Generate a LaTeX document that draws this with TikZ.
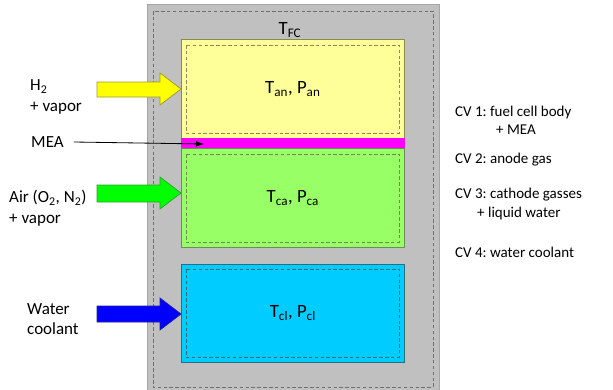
\documentclass[tikz,border=0pt]{standalone}
\usepackage{fontspec}
\setmainfont{Carlito}
\usetikzlibrary{arrows.meta}
\frenchspacing
\begin{document}
\begin{tikzpicture}[x=0.03cm,y=-0.03cm,
  cvbox/.style={draw=#1, line width=0.6pt, rectangle, inner sep=0pt, anchor=north west},
  innerdash/.style={draw=#1, dashed, line width=0.5pt, dash pattern=on 3pt off 2pt},
  biglabel/.style={font=\fontsize{16}{18}\selectfont, inner sep=0pt},
  leftlabel/.style={font=\fontsize{14.5}{17.5}\selectfont, align=left, inner sep=0pt, anchor=west},
  rightlabel/.style={font=\fontsize{12.8}{15}\selectfont, align=left, inner sep=0pt, anchor=west},
  fatarrow/.style={draw=#1, line width=0.6pt, line join=miter}
]
\definecolor{bodygray}{HTML}{C0C0C0}
\definecolor{bodyedge}{HTML}{A6A6A6}
\definecolor{dashgray}{HTML}{707070}
\definecolor{anfill}{HTML}{FFFF99}
\definecolor{anedge}{HTML}{8C8C50}
\definecolor{cafill}{HTML}{99FF66}
\definecolor{caedge}{HTML}{6E8C5A}
\definecolor{clfill}{HTML}{00CCFF}
\definecolor{cledge}{HTML}{2C6E80}
\definecolor{meafill}{HTML}{FF00FF}
\definecolor{yarrow}{HTML}{FFFF00}
\definecolor{yarrowedge}{HTML}{9A9A30}
\definecolor{garrow}{HTML}{00FF00}
\definecolor{garrowedge}{HTML}{30A030}
\definecolor{barrow}{HTML}{0000FF}
\definecolor{barrowedge}{HTML}{2020A0}

\useasboundingbox (0,0) rectangle (613,389);

% fuel cell body
\fill[bodygray, draw=bodyedge, line width=0.6pt] (147,4) rectangle (439,400);
\draw[dashgray, dashed, line width=0.6pt, dash pattern=on 3pt off 2pt] (153,11) rectangle (433,387);
\node[biglabel] (tfc) at (290,30) {T\textsubscript{FC}};

% anode
\node[cvbox=anedge, fill=anfill, minimum width=223*0.03cm, minimum height=99*0.03cm] (an) at (181,39) {};
\draw[innerdash=anedge] (186,45) rectangle (399,133);
\node[biglabel] (anlab) at (an.center) {T\textsubscript{an}, P\textsubscript{an}};

% MEA
\node[cvbox=meafill, fill=meafill, minimum width=223*0.03cm, minimum height=10*0.03cm] (mea) at (181,138) {};

% cathode
\node[cvbox=caedge, fill=cafill, minimum width=223*0.03cm, minimum height=99*0.03cm] (ca) at (181,148) {};
\draw[innerdash=caedge] (186,154) rectangle (399,242);
\node[biglabel] (calab) at (ca.center) {T\textsubscript{ca}, P\textsubscript{ca}};

% coolant
\node[cvbox=cledge, fill=clfill, minimum width=223*0.03cm, minimum height=98*0.03cm] (cl) at (181,264) {};
\draw[innerdash=cledge] (186,269) rectangle (399,357);
\node[biglabel] (cllab) at (cl.center) {T\textsubscript{cl}, P\textsubscript{cl}};

% fat arrows
\filldraw[fatarrow=yarrowedge, fill=yarrow] (97,82) -- (160,82) -- (160,73) -- (181,89) -- (160,105) -- (160,97) -- (97,97) -- cycle;
\filldraw[fatarrow=garrowedge, fill=garrow] (97,185) -- (160,185) -- (160,177) -- (181,193) -- (160,209) -- (160,202) -- (97,202) -- cycle;
\filldraw[fatarrow=barrowedge, fill=barrow] (97,306) -- (160,306) -- (160,298) -- (181,314) -- (160,330) -- (160,322) -- (97,322) -- cycle;

% left labels
\node[leftlabel] (h2) at (30,97) {H\textsubscript{2}\\+ vapor};
\node[leftlabel] (mealab) at (31,142) {MEA};
\node[leftlabel] (air) at (9,208) {Air (O\textsubscript{2}, N\textsubscript{2})\\+ vapor};
\node[leftlabel] (water) at (27,319) {Water\\coolant};

\coordinate (meatip) at (204,144);
\draw[-{Latex[length=7pt,width=5pt]}, line width=0.7pt] (mealab.east) ++(10,0) -- (meatip);

% right labels
\node[rightlabel] (cv1) at (455,112) {CV 1: fuel cell body};
\node[rightlabel] (cv1b) at (496,130) {+ MEA};
\node[rightlabel] (cv2) at (455,160) {CV 2: anode gas};
\node[rightlabel] (cv3) at (455,195) {CV 3: cathode gasses};
\node[rightlabel] (cv3b) at (477,213) {+ liquid water};
\node[rightlabel] (cv4) at (455,252) {CV 4: water coolant};
\end{tikzpicture}
\end{document}
